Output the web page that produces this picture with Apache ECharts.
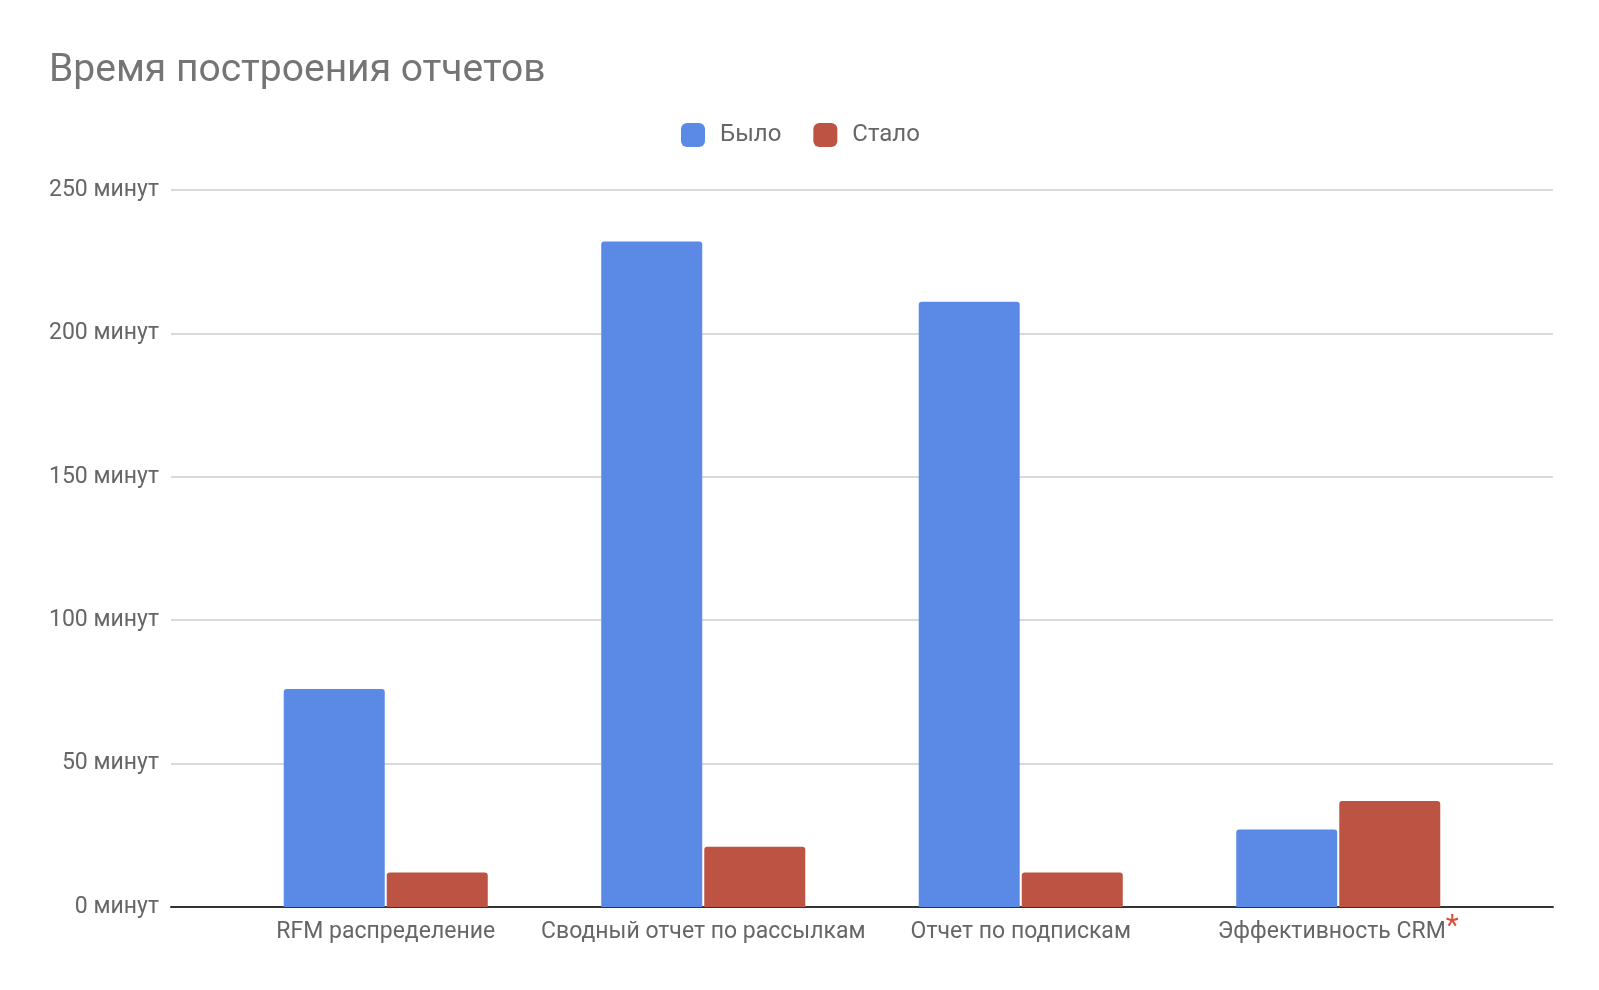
<!DOCTYPE html>
<html>
<head>
<meta charset="utf-8">
<script src="https://cdn.jsdelivr.net/npm/echarts@6/dist/echarts.min.js"></script>
<style>html,body{margin:0;padding:0;background:#fff}#c{width:1599px;height:990px}</style>
</head>
<body>
<div id="c"></div>
<script>
const categories = ['RFM распределение', 'Сводный отчет по рассылкам', 'Отчет по подпискам', 'Эффективность CRM*'];
const wasValues = [76, 232, 211, 27];
const nowValues = [12, 21, 12, 37];
const seriesNames = ['Было', 'Стало'];
const yTicks = [0, 50, 100, 150, 200, 250];
const yUnit = ' минут';

const chart = echarts.init(document.getElementById('c'));
const FONT = 'Roboto, "Noto Sans", sans-serif';
const yMin = yTicks[0], yMax = yTicks[yTicks.length - 1], yStep = yTicks[1] - yTicks[0];

chart.setOption({
  backgroundColor: '#fff',
  animation: false,
  title: {
    text: 'Время построения отчетов',
    left: 44, top: 47,
    textStyle: { fontFamily: FONT, fontSize: 39, fontWeight: 'normal', color: '#757575' }
  },
  legend: {
    data: seriesNames,
    left: 676, top: 118,
    itemWidth: 24, itemHeight: 24, itemGap: 32,
    icon: 'roundRect',
    textStyle: { fontFamily: FONT, fontSize: 24, color: '#666', padding: [0, 0, 0, 10] }
  },
  grid: [
    { left: 171, right: 46, top: 190, bottom: 83, containLabel: false },
    { left: 227, right: 102, top: 190, bottom: 83, containLabel: false }
  ],
  xAxis: [
    { gridIndex: 0, type: 'value', min: 0, max: 1, axisLabel: { show: false }, axisTick: { show: false },
      splitLine: { show: false }, axisLine: { show: true, lineStyle: { color: '#333', width: 2 } } },
    { gridIndex: 1, type: 'category', data: categories, axisTick: { show: false },
      axisLine: { show: false },
      axisLabel: {
        interval: 0, margin: 5, fontFamily: FONT, fontSize: 23, color: '#666',
        formatter: function (v) { return v.endsWith('*') ? '{a|' + v.slice(0, -1) + '}{s|*}' : '{a|' + v + '}'; },
        rich: {
          a: { fontFamily: FONT, fontSize: 23, color: '#666', lineHeight: 40 },
          s: { fontFamily: FONT, fontSize: 30, color: '#d9503f', lineHeight: 26, verticalAlign: 'top' }
        }
      } }
  ],
  yAxis: [
    { gridIndex: 0, type: 'value', min: yMin, max: yMax, interval: yStep,
      axisLine: { show: false }, axisTick: { show: false },
      axisLabel: { margin: 12, fontFamily: FONT, fontSize: 23, color: '#666', formatter: v => v + yUnit },
      splitLine: { lineStyle: { color: '#d9d9d9', width: 2 } } },
    { gridIndex: 1, type: 'value', min: yMin, max: yMax, interval: yStep, show: false, splitLine: { show: false } }
  ],
  series: [
    { name: seriesNames[0], type: 'bar', xAxisIndex: 1, yAxisIndex: 1, data: wasValues,
      barWidth: 101, barGap: '2%', itemStyle: { color: '#5b8ae6', borderRadius: [3, 3, 0, 0] } },
    { name: seriesNames[1], type: 'bar', xAxisIndex: 1, yAxisIndex: 1, data: nowValues,
      barWidth: 101, barGap: '2%', itemStyle: { color: '#bd5443', borderRadius: [3, 3, 0, 0] } }
  ]
});
</script>
</body>
</html>
